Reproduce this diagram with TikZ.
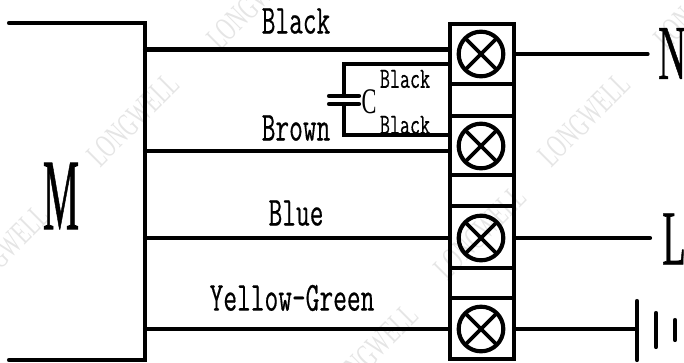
\documentclass[tikz,border=0pt]{standalone}
\usepackage{fontspec}
\setmainfont{Liberation Serif}
\newfontfamily\slab[FakeBold=0.5]{Latin Modern Mono}
\newfontfamily\letterfont[FakeBold=1]{Liberation Serif}
\tikzset{
  x=0.75pt,y=-0.75pt,
  wire/.style={line width=3.1pt,line cap=round,line join=miter},
  thinwire/.style={line width=2.4pt,line cap=round},
  termbox/.style={draw,line width=3.1pt,minimum width=48pt,inner sep=0pt,outer sep=0pt},
  lamp/.style={draw,circle,line width=3.1pt,minimum size=33.5pt,inner sep=0pt,outer sep=0pt,
    path picture={\draw[line width=2.8pt]
      (path picture bounding box.south west)--(path picture bounding box.north east)
      (path picture bounding box.north west)--(path picture bounding box.south east);}},
  bigtxt/.style={inner sep=0pt,font=\slab\fontsize{31}{31}\selectfont,xscale=.645},
  smalltxt/.style={inner sep=0pt,font=\slab\fontsize{22}{22}\selectfont,xscale=.665},
  letter/.style={inner sep=0pt,font=\letterfont\fontsize{76}{76}\selectfont,xscale=.40},
  sideletter/.style={inner sep=0pt,font=\letterfont\fontsize{58}{58}\selectfont,xscale=.5,anchor=west},
  wm/.style={inner sep=0pt,text=black!10,font=\fontsize{25}{25}\selectfont,rotate=45,xscale=.62},
}
\begin{document}
\begin{tikzpicture}
\useasboundingbox (0,0) rectangle (684,362);
\clip (0,0) rectangle (684,362);
% watermarks
\node[wm] (w1) at (133,120) {LONGWELL};
\node[wm] (w2) at (253,3) {LONGWELL};
\node[wm] (w3) at (3,252) {LONGWELL};
\node[wm] (w4) at (480,233) {LONGWELL};
\node[wm] (w5) at (584,120) {LONGWELL};
\node[wm] (w6) at (372,351) {LONGWELL};
\node[wm] (w7) at (700,3) {LONGWELL};
% motor
\coordinate (mt) at (9,23);
\coordinate (mtr) at (145,23);
\coordinate (mbr) at (145,360);
\coordinate (mb) at (9,360);
\draw[wire] (mt)--(mtr)--(mbr)--(mb);
\node[letter] (M) at (61,196) {M};
% terminals
\node[termbox,minimum height=45pt] (t1) at (482,54) {};
\node[termbox,minimum height=44pt] (t2) at (482,145.5) {};
\node[termbox,minimum height=46pt] (t3) at (482,237) {};
\node[termbox,minimum height=46pt] (t4) at (482,328.5) {};
\draw[wire,line cap=butt] (t1.south west)--(t2.north west) (t1.south east)--(t2.north east)
            (t2.south west)--(t3.north west) (t2.south east)--(t3.north east)
            (t3.south west)--(t4.north west) (t3.south east)--(t4.north east);
\node[lamp] (l1) at (481,54) {};
\node[lamp] (l2) at (481,146) {};
\node[lamp] (l3) at (481,238) {};
\node[lamp] (l4) at (481,329) {};
% motor wires
\foreach \n/\y in {a/49.5,b/151,c/238,d/329}{\coordinate (m\n) at (145,\y);\coordinate (e\n) at (450,\y);}
\draw[wire] (ma)--(ea) (mb)--(eb) (mc)--(ec) (md)--(ed);
% capacitor
\coordinate (ct) at (344,64); \coordinate (cb) at (344,135);
\coordinate (ctr) at (450,64); \coordinate (cbr) at (450,135);
\coordinate (p1) at (344,96); \coordinate (p2) at (344,104);
\coordinate (p1l) at (329,96); \coordinate (p1r) at (359,96);
\coordinate (p2l) at (329,104); \coordinate (p2r) at (359,104);
\draw[wire] (ctr)--(ct)--(p1) (p2)--(cb)--(cbr);
\draw[wire] (p1l)--(p1r) (p2l)--(p2r);
% right wires
\coordinate (rn) at (648,54); \coordinate (rl) at (650,238); \coordinate (rg) at (637,329);
\coordinate (sn) at (515,54); \coordinate (sl) at (515,238); \coordinate (sg) at (515,329);
\draw[thinwire] (sn)--(rn);
\draw[wire] (sl)--(rl) (sg)--(rg);
% ground
\coordinate (g1a) at (637,301); \coordinate (g1b) at (637,360);
\coordinate (g2a) at (656,313); \coordinate (g2b) at (656,347);
\coordinate (g3a) at (675,320); \coordinate (g3b) at (675,340);
\draw[wire] (g1a)--(g1b) (g2a)--(g2b) (g3a)--(g3b);
% labels
\node[sideletter] (N) at (658,53.5) {N};
\node[sideletter] (L) at (662,239) {L};
\node[bigtxt] (tb1) at (296,21) {Black};
\node[bigtxt] (tb2) at (296,128) {Brown};
\node[bigtxt] (tb3) at (296,213) {Blue};
\node[bigtxt] (tb4) at (292,298) {Yellow-Green};
\node[smalltxt] (ts1) at (405,79) {Black};
\node[smalltxt] (ts2) at (405,125) {Black};
\node[inner sep=0pt,font=\fontsize{27}{27}\selectfont,xscale=.62] (tc) at (369,102) {C};
\end{tikzpicture}
\end{document}
